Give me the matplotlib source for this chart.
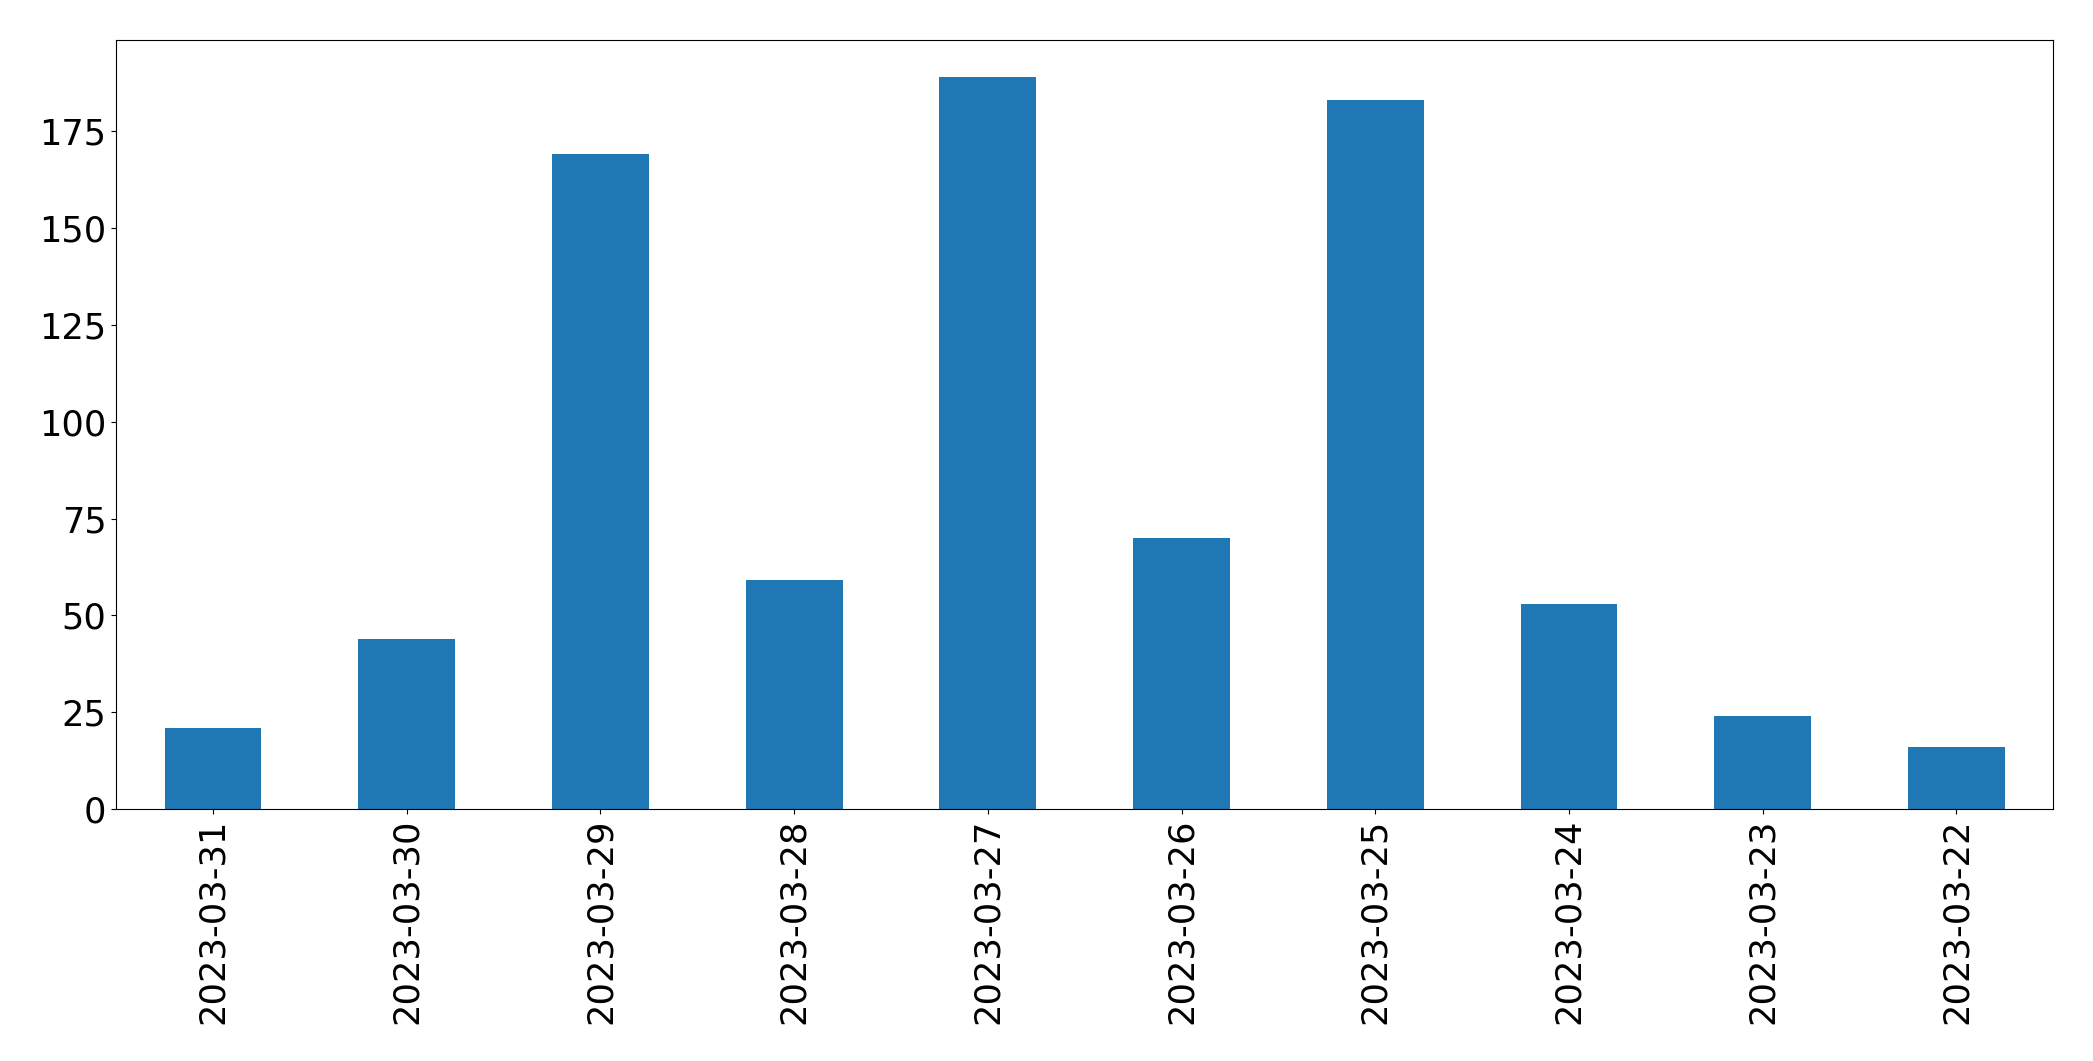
import matplotlib
matplotlib.use("Agg")
import matplotlib.pyplot as plt
import pandas as pd

# dates as they appear on the x axis (newest first)
dates = ["2023-03-31", "2023-03-30", "2023-03-29", "2023-03-28", "2023-03-27",
         "2023-03-26", "2023-03-25", "2023-03-24", "2023-03-23", "2023-03-22"]
counts = [21, 44, 169, 59, 189, 70, 183, 53, 24, 16]

series = pd.Series(counts, index=dates)

fig = plt.figure(figsize=(20.93, 10.61), dpi=100)
ax = fig.add_axes([0.0555, 0.2375, 0.9255, 0.7245])
series.plot(kind="bar", ax=ax, color="#1f77b4", fontsize=25.4)

plt.savefig("out.png", dpi=100)
